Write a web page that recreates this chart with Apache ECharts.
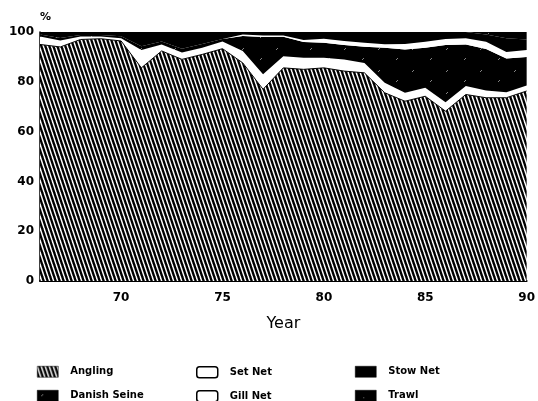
<!DOCTYPE html>
<html>
<head>
<meta charset="utf-8">
<script src="https://cdn.jsdelivr.net/npm/echarts@6/dist/echarts.min.js"></script>
<style>html,body{margin:0;padding:0;background:#fff}#c{width:538px;height:401px}</style>
</head>
<body>
<div id="c"></div>
<script>
// ---- data ----
const years = ['66','67','68','69','70','71','72','73','74','75','76','77','78','79','80','81','82','83','84','85','86','87','88','89','90'];
const yTicks = [0, 20, 40, 60, 80, 100];
const xTickLabels = ['70','75','80','85','90'];
const angling     = [95.0,94.0,97.0,97.3,96.4,85.6,92.4,89.0,91.0,93.3,87.6,77.0,85.6,85.0,85.6,84.3,83.6,75.6,72.2,74.2,68.2,74.9,73.6,73.6,76.3];
const gillNet     = [3.2,2.6,1.2,0.9,1.1,7.2,2.6,2.8,2.7,2.9,4.8,6.0,4.7,4.7,4.1,4.7,4.0,4.0,3.4,3.4,3.6,3.4,2.9,2.2,2.2];
const danishSeine = [0.8,1.0,0.6,0.6,0.8,1.5,1.2,1.5,1.5,1.0,6.0,15.0,7.8,6.3,6.0,5.8,6.5,14.1,17.4,16.1,23.0,16.7,16.7,13.6,11.5];
const setNet      = [0,0,0,0,0,0,0,0,0,0,0.6,0.6,0.5,0.8,1.6,1.6,1.6,1.4,2.2,2.4,2.4,2.5,2.9,2.6,2.8];
const stowNet     = [1.0,2.4,1.2,1.2,1.7,5.7,3.8,6.7,4.8,2.8,1.0,1.4,1.4,3.2,2.7,3.6,4.3,4.9,4.8,3.9,2.8,2.5,2.9,5.5,4.2];
const trawl       = [0,0,0,0,0,0,0,0,0,0,0,0,0,0,0,0,0,0,0,0,0,0,1.0,2.5,3.0];

// ---- patterns ----
function hatch() {
  const c = document.createElement('canvas'); c.width = 4; c.height = 12;
  const g = c.getContext('2d');
  g.fillStyle = '#000'; g.fillRect(0,0,4,12);
  g.strokeStyle = '#fff'; g.lineWidth = 1.5;
  [-4,0,4].forEach(x0 => { g.beginPath(); g.moveTo(x0,0); g.lineTo(x0+4,12); g.stroke(); });
  return {image: c, repeat: 'repeat'};
}
function speckle(w, h, marks) {
  const c = document.createElement('canvas'); c.width = w; c.height = h;
  const g = c.getContext('2d');
  g.fillStyle = '#000'; g.fillRect(0,0,w,h);
  g.strokeStyle = '#bbb'; g.lineWidth = 0.7;
  marks.forEach(m => { g.beginPath(); g.moveTo(m[0],m[1]); g.lineTo(m[2],m[3]); g.stroke(); });
  return {image: c, repeat: 'repeat'};
}
const pAngling = hatch();
const pDanish = speckle(34, 22, [[4,6,6,4],[22,16,24,14]]);
const pTrawl = speckle(40, 26, [[8,8,9,7],[28,19,29,18]]);

function area(name, data, fill, lineW) {
  return {
    name, type: 'line', stack: 'total', data, symbol: 'none', smooth: false,
    lineStyle: {width: lineW, color: '#000'},
    itemStyle: {color: fill},
    areaStyle: {color: fill, opacity: 1},
    emphasis: {disabled: true}, silent: true
  };
}

const chart = echarts.init(document.getElementById('c'), null, {renderer: 'canvas'});
const legendText = {fontFamily: 'DejaVu Sans', fontWeight: 'bold', fontSize: 10, color: '#000', padding: [0,0,0,7], lineHeight: 11};
function legendItem(left, top, name, icon, fill, bw) {
  return {
    left, top, padding: 0, itemWidth: 21, itemHeight: 11,
    textStyle: legendText, selectedMode: false,
    data: [{name, icon, itemStyle: {color: fill, borderColor: '#000', borderWidth: bw}}]
  };
}

chart.setOption({
  animation: false,
  backgroundColor: '#fff',
  grid: {left: 40, right: 10, top: 32, bottom: 120},
  xAxis: {
    type: 'category', data: years, boundaryGap: false,
    name: 'Year', nameLocation: 'middle', nameGap: 35,
    nameTextStyle: {fontFamily: 'DejaVu Sans', fontSize: 16, color: '#000'},
    axisLine: {lineStyle: {color: '#000', width: 2}},
    axisTick: {show: false},
    axisLabel: {
      interval: (i, v) => xTickLabels.indexOf(v) >= 0,
      fontFamily: 'DejaVu Sans', fontWeight: 'bold', fontSize: 12, color: '#000', margin: 11
    },
    splitLine: {show: false}
  },
  yAxis: {
    type: 'value', min: yTicks[0], max: yTicks[yTicks.length-1], interval: 20,
    name: '%', nameLocation: 'end', nameGap: 9,
    nameTextStyle: {fontFamily: 'DejaVu Sans', fontWeight: 'bold', fontSize: 11, color: '#000', align: 'left'},
    axisLine: {show: true, lineStyle: {color: '#000', width: 1.5}},
    axisTick: {show: true, inside: true, length: 3, lineStyle: {color: '#000'}},
    axisLabel: {fontFamily: 'DejaVu Sans', fontWeight: 'bold', fontSize: 12, color: '#000', margin: 6},
    splitLine: {show: false}
  },
  legend: [
    legendItem(37, 366, 'Angling', 'rect', pAngling, 0.5),
    legendItem(37, 390, 'Danish Seine', 'rect', pDanish, 0.5),
    legendItem(196, 366, 'Set Net', 'roundRect', '#fff', 1.5),
    legendItem(196, 390, 'Gill Net', 'roundRect', '#fff', 1.5),
    legendItem(355, 366, 'Stow Net', 'rect', '#000', 0.5),
    legendItem(355, 390, 'Trawl', 'rect', pTrawl, 0.5)
  ],
  series: [
    area('Angling', angling, pAngling, 1),
    area('Gill Net', gillNet, '#fff', 0),
    area('Danish Seine', danishSeine, pDanish, 0),
    area('Set Net', setNet, '#fff', 0),
    area('Stow Net', stowNet, '#000', 0),
    area('Trawl', trawl, pTrawl, 0)
  ]
});
</script>
</body>
</html>
